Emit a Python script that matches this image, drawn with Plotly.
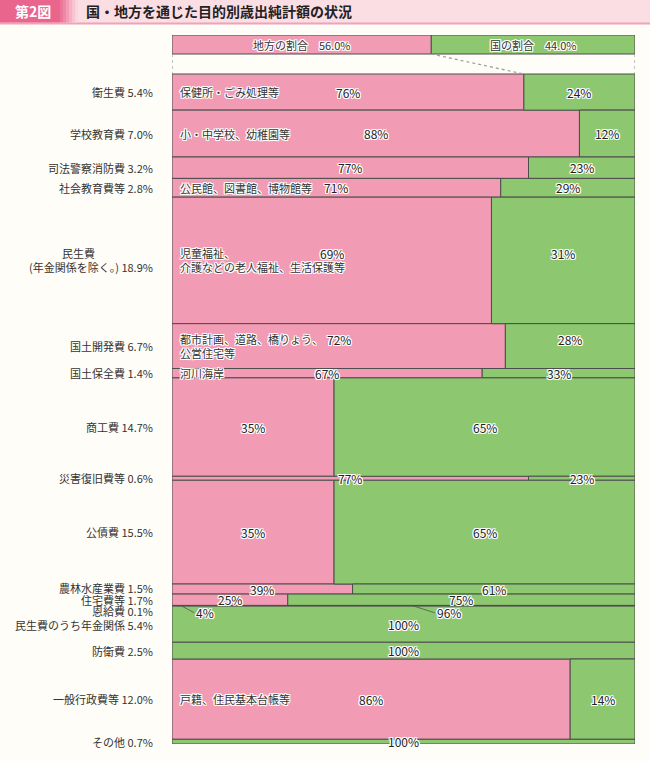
import numpy as np
import plotly.graph_objects as go

# ---------------- data ----------------
categories = ["衛生費", "学校教育費", "司法警察消防費", "社会教育費等", "　　　民生費<br>(年金関係を除く。)",
              "国土開発費", "国土保全費", "商工費", "災害復旧費等", "公債費", "農林水産業費",
              "住宅費等", "恩給費", "民生費のうち年金関係", "防衛費", "一般行政費等", "その他"]
shares = [5.4, 7.0, 3.2, 2.8, 18.9, 6.7, 1.4, 14.7, 0.6, 15.5, 1.5, 1.7, 0.1, 5.4, 2.5, 12.0, 0.7]
local_pct = [76, 88, 77, 71, 69, 72, 67, 35, 77, 35, 39, 25, 4, 0, 0, 86, 0]
national_pct = [24, 12, 23, 29, 31, 28, 33, 65, 23, 65, 61, 75, 96, 100, 100, 14, 100]
descriptions = ["保健所・ごみ処理等", "小・中学校、幼稚園等", "", "公民館、図書館、博物館等",
                "児童福祉、<br>介護などの老人福祉、生活保護等", "都市計画、道路、橋りょう、<br>公営住宅等",
                "河川海岸", "", "", "", "", "", "", "", "", "戸籍、住民基本台帳等", ""]
overall_local = 56.0
overall_national = 44.0
title = "国・地方を通じた目的別歳出純計額の状況"
fig_no = "第2図"

PINK = "#f19cb4"
GREEN = "#8dc76f"
EDGE = "#4d4d4d"
BG = "#fffdf8"
FONT = "Noto Sans CJK JP"
HALO = "1px 0 0 #fff, -1px 0 0 #fff, 0 1px 0 #fff, 0 -1px 0 #fff, 1px 1px 0 #fff, -1px -1px 0 #fff, 1px -1px 0 #fff, -1px 1px 0 #fff"

W, H = 650, 761
ML, MR, MT, MB = 172, 15, 35, 17
total = float(np.sum(shares))
row_top_px = 74
px_per_unit = (H - MB - row_top_px) / total
y_top = -(row_top_px - MT) / px_per_unit
band_bottom = -(row_top_px - 54) / px_per_unit
band_center = (y_top + band_bottom) / 2
band_width = band_bottom - y_top

ends = np.cumsum(shares)
centers = ends - np.array(shares) / 2
loc = np.array(local_pct) / 100
nat = np.array(national_pct) / 100

fig = go.Figure()
fig.add_trace(go.Bar(orientation="h", y=centers, x=loc, base=0, width=shares,
                     marker=dict(color=PINK, line=dict(color=EDGE, width=1)), hoverinfo="skip"))
fig.add_trace(go.Bar(orientation="h", y=centers, x=nat, base=loc, width=shares,
                     marker=dict(color=GREEN, line=dict(color=EDGE, width=1)), hoverinfo="skip"))
# overall band
fig.add_trace(go.Bar(orientation="h", y=[band_center], x=[overall_local / 100], base=[0], width=[band_width],
                     marker=dict(color=PINK, line=dict(color=EDGE, width=1)), hoverinfo="skip"))
fig.add_trace(go.Bar(orientation="h", y=[band_center], x=[overall_national / 100], base=[overall_local / 100],
                     width=[band_width], marker=dict(color=GREEN, line=dict(color=EDGE, width=1)),
                     hoverinfo="skip"))
# dotted connectors
for xs in ([0, 0], [overall_local / 100, loc[0]], [1, 1]):
    fig.add_trace(go.Scatter(x=xs, y=[band_bottom, 0], mode="lines",
                             line=dict(color="#9a9a9a", width=1.2, dash="dot"), hoverinfo="skip"))

ann = []
pf = dict(family=FONT, size=12, color="#222", shadow=HALO)
lf = dict(family=FONT, size=11, color="#333")
bf = dict(family=FONT, size=11, color="#333", shadow=HALO)
df = dict(family=FONT, size=11, color="#333", shadow=HALO)

ann.append(dict(x=overall_local / 200, y=band_center, xref="x", yref="y",
                text=f"地方の割合　{overall_local:.1f}%", showarrow=False, font=bf))
ann.append(dict(x=overall_local / 100 + overall_national / 200, y=band_center, xref="x", yref="y",
                text=f"国の割合　{overall_national:.1f}%", showarrow=False, font=bf))

# small label nudges (pixels) for the crowded bottom rows
label_nudge = {10: 1, 12: -5, 13: -1}

for i, cat in enumerate(categories):
    c = centers[i]
    two_line = "<br>" in descriptions[i]
    ys = 6.5 if two_line else 0
    small = shares[i] < 0.5
    ann.append(dict(x=0, y=c, xref="paper", yref="y", xanchor="right", yanchor="middle", xshift=-17,
                    yshift=label_nudge.get(i, 0),
                    text=f"{cat} {shares[i]:.1f}%",
                    showarrow=False, align="left", font=lf))
    if descriptions[i]:
        ann.append(dict(x=0, y=c, xref="x", yref="y", xanchor="left", yanchor="middle", xshift=6,
                        text=descriptions[i], showarrow=False, align="left", font=df))
    if local_pct[i] > 0:
        if small:
            ann.append(dict(x=loc[i] / 2, y=c, xref="x", yref="y", text=f"{local_pct[i]}%",
                            showarrow=True, arrowhead=0, arrowwidth=0.8, arrowcolor="#555",
                            ax=13, ay=7, xanchor="left", font=pf))
        else:
            ann.append(dict(x=loc[i] / 2, y=c, xref="x", yref="y", yshift=ys, yanchor="middle",
                            text=f"{local_pct[i]}%", showarrow=False, font=pf))
    if national_pct[i] > 0:
        if small:
            ann.append(dict(x=loc[i] + nat[i] / 2, y=c, xref="x", yref="y", text=f"{national_pct[i]}%",
                            showarrow=True, arrowhead=0, arrowwidth=0.8, arrowcolor="#555",
                            ax=22, ay=7, xanchor="left", font=pf))
        else:
            ann.append(dict(x=loc[i] + nat[i] / 2, y=c, xref="x", yref="y", yshift=ys, yanchor="middle",
                            text=f"{national_pct[i]}%", showarrow=False, font=pf))

# header (page decoration)
pw, ph = W - ML - MR, H - MT - MB
def px(p):
    return (p - ML) / pw
def py(p):
    return (H - MB - p) / ph

shapes = [
    dict(type="rect", xref="paper", yref="paper", x0=px(0), x1=px(W), y0=py(23), y1=py(0),
         fillcolor="#fbdde4", line=dict(width=0), layer="below"),
    dict(type="rect", xref="paper", yref="paper", x0=px(0), x1=px(W), y0=py(24.5), y1=py(22.5),
         fillcolor="#f0a3b8", line=dict(width=0), layer="below"),
    dict(type="rect", xref="paper", yref="paper", x0=px(0), x1=px(60), y0=py(22.5), y1=py(0),
         fillcolor="#e9658e", line=dict(width=0), layer="below"),
]
for k, col in enumerate(["#ec769a", "#ef88a7", "#f29bb5", "#f5b0c3", "#f8c4d1", "#fad4de"]):
    shapes.append(dict(type="rect", xref="paper", yref="paper", x0=px(60 + 3 * k), x1=px(63 + 3 * k),
                       y0=py(22.5), y1=py(0), fillcolor=col, line=dict(width=0), layer="below"))

ann.append(dict(x=px(33), y=py(11.5), xref="paper", yref="paper", text=f"<b>{fig_no}</b>",
                xanchor="center", yanchor="middle",
                showarrow=False, font=dict(family=FONT, size=14, color="white")))
ann.append(dict(x=px(84), y=py(11.5), xref="paper", yref="paper", text=f"<b>{title}</b>", xanchor="left",
                yanchor="middle", showarrow=False, font=dict(family=FONT, size=14, color="#222")))

fig.update_layout(
    width=W, height=H, margin=dict(l=ML, r=MR, t=MT, b=MB),
    paper_bgcolor=BG, plot_bgcolor=BG, barmode="overlay", showlegend=False,
    xaxis=dict(range=[0, 1], visible=False, fixedrange=True),
    yaxis=dict(range=[total, y_top], visible=False, fixedrange=True),
    annotations=ann, shapes=shapes, font=dict(family=FONT),
)
fig.write_html("out.html", config={"displayModeBar": False},
               post_script="document.body.style.margin='0';document.body.style.background='#fffdf8';")
